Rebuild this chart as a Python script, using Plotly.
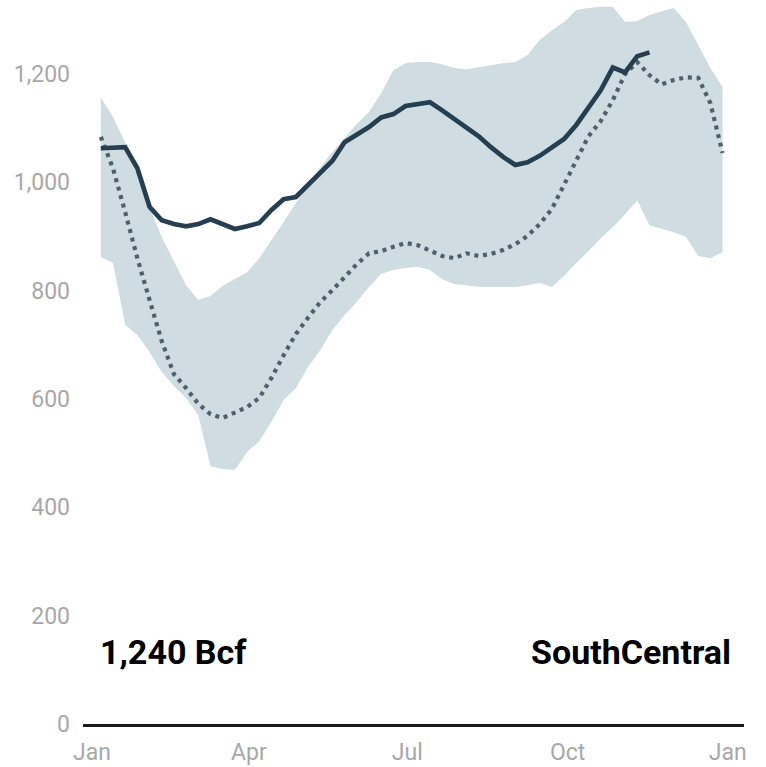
import pandas as pd
import plotly.graph_objects as go

# Weekly observation dates (week ending)
week_dates = pd.date_range("2021-01-06", periods=52, freq="7D")

# Five-year maximum / minimum range (Bcf)
range_max = [1157, 1121, 1073, 1012, 954, 899, 853, 810, 783, 790, 809, 821, 834, 860,
             893, 927, 962, 995, 1028, 1056, 1082, 1108, 1130, 1165, 1207, 1220, 1222, 1222,
             1218, 1211, 1209, 1213, 1217, 1220, 1222, 1235, 1263, 1281, 1296, 1318, 1322,
             1324, 1324, 1296, 1298, 1309, 1316, 1322, 1296, 1253, 1211, 1176]
range_min = [862, 851, 737, 718, 687, 650, 624, 602, 570, 476, 471, 469, 502, 522,
             558, 598, 620, 659, 690, 727, 755, 779, 807, 831, 838, 842, 844, 838,
             821, 812, 810, 807, 807, 807, 807, 810, 814, 807, 827, 851, 873,
             897, 917, 941, 967, 921, 914, 908, 899, 864, 860, 871]

# Five-year average (Bcf)
five_year_avg = [1084, 1026, 945, 860, 783, 707, 646, 620, 591, 572, 565, 574, 585, 602,
                 639, 681, 720, 750, 779, 801, 825, 849, 869, 873, 881, 888, 884, 873,
                 864, 860, 869, 864, 868, 875, 886, 901, 923, 951, 995, 1041, 1085,
                 1113, 1152, 1200, 1222, 1198, 1181, 1189, 1194, 1193, 1146, 1054]

# Current year (Bcf), reported through mid-November
current_year = [1063, 1065, 1065, 1026, 955, 930, 923, 919, 923, 932, 923, 914, 919, 925,
                949, 969, 973, 995, 1019, 1040, 1074, 1089, 1102, 1120, 1126, 1141, 1145,
                1148, 1133, 1117, 1102, 1085, 1065, 1047, 1032, 1037, 1049, 1065, 1080,
                1106, 1139, 1170, 1212, 1203, 1233, 1240]

y_ticks = [0, 200, 400, 600, 800, 1000, 1200]
y_tick_text = ["0", "200", "400", "600", "800", "1,000", "1,200"]
latest_label = "1,240 Bcf"
region_label = "SouthCentral"

band_color = "#cfdde3"
avg_color = "#4d606c"
cur_color = "#263f50"

fig = go.Figure()
fig.add_trace(go.Scatter(x=week_dates, y=range_max, mode="lines",
                         line=dict(width=0, color=band_color), hoverinfo="skip",
                         showlegend=False))
fig.add_trace(go.Scatter(x=week_dates, y=range_min, mode="lines",
                         line=dict(width=0, color=band_color), fill="tonexty",
                         fillcolor=band_color, showlegend=False))
fig.add_trace(go.Scatter(x=week_dates, y=five_year_avg, mode="lines",
                         line=dict(width=4.2, color=avg_color, dash="4px,4.8px"),
                         showlegend=False))
fig.add_trace(go.Scatter(x=week_dates[:len(current_year)], y=current_year, mode="lines",
                         line=dict(width=4.7, color=cur_color), showlegend=False))

fig.add_annotation(text=latest_label, xref="paper", yref="paper", x=0.022, y=0.10,
                   xanchor="left", yanchor="middle", showarrow=False,
                   font=dict(family="Roboto", size=34, color="#000000", weight="bold"))
fig.add_annotation(text=region_label, xref="paper", yref="paper", x=0.983, y=0.10,
                   xanchor="right", yanchor="middle", showarrow=False,
                   font=dict(family="Roboto", size=34, color="#000000", weight="bold"))

tick_font = dict(family="Roboto", size=23, color="#a8a8a8")

fig.update_layout(
    width=766, height=767,
    margin=dict(l=83, r=22, t=2, b=43),
    plot_bgcolor="white", paper_bgcolor="white",
    font=dict(family="Roboto", size=23, color="#a8a8a8"),
    xaxis=dict(type="date", range=["2020-12-26 19:00", "2022-01-10 07:00"],
               tickformat="%b", dtick="M3", tick0="2021-01-01", tickfont=tick_font,
               showgrid=False, zeroline=False, showline=True, linecolor="#1a1a1a",
               linewidth=3, ticks="", ticklabelstandoff=5),
    yaxis=dict(range=[0, 1333], tickvals=y_ticks, ticktext=y_tick_text, tickfont=tick_font,
               showgrid=False, zeroline=False, showline=False, ticks="",
               ticklabelstandoff=12),
)

fig.write_html("out.html", config={"displayModeBar": False},
               post_script="document.body.style.margin='0';")
